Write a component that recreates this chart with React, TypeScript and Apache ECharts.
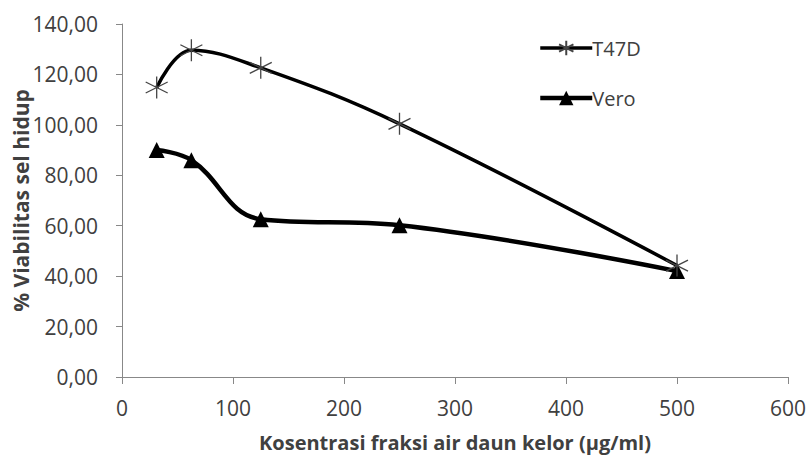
import React, { useEffect, useRef } from "react";
import * as echarts from "echarts";

const concentrations = [31.25, 62.5, 125, 250, 500];
const t47dValues = [114.8, 129.6, 122.6, 100.4, 44.2];
const veroValues = [90.0, 86.0, 62.6, 60.2, 42.0];
const seriesNames = ["T47D", "Vero"];
const xTitle = "Kosentrasi fraksi air daun kelor (µg/ml)";
const yTitle = "% Viabilitas sel hidup";

const starPath = "path://M0,-10L0,10M-8.66,-5L8.66,5M-8.66,5L8.66,-5";

export default function App() {
  const ref = useRef<HTMLDivElement>(null);
  useEffect(() => {
    if (!ref.current) return;
    const chart = echarts.init(ref.current, null, { renderer: "svg" });
    const font = "'Open Sans', 'Noto Sans', sans-serif";
    const textColor = "#404040";
    chart.setOption({
      animation: false,
      backgroundColor: "#ffffff",
      textStyle: { fontFamily: font },
      grid: { left: 122, right: 22, top: 24, bottom: 82, containLabel: false, outerBoundsMode: "none" },
      legend: {
        orient: "vertical",
        left: 533,
        top: 33,
        itemWidth: 52,
        itemHeight: 18,
        itemGap: 30,
        textStyle: { fontSize: 20, color: textColor, fontFamily: font, padding: [0, 0, 0, -5] },
        data: [
          { name: seriesNames[0], lineStyle: { width: 3.5, color: "#000000" } },
          { name: seriesNames[1], lineStyle: { width: 4.5, color: "#000000" } },
        ],
      },
      xAxis: {
        type: "value",
        min: 0,
        max: 600,
        interval: 100,
        name: xTitle,
        nameLocation: "middle",
        nameGap: 55,
        nameMoveOverlap: false,
        nameTextStyle: { fontSize: 20, fontWeight: "bold", color: textColor, fontFamily: font },
        axisLine: { show: true, onZero: false, lineStyle: { color: "#888888", width: 1 } },
        axisTick: { show: true, length: 7, lineStyle: { color: "#888888" } },
        axisLabel: { fontSize: 21, color: textColor, margin: 20, fontFamily: font },
        splitLine: { show: false },
      },
      yAxis: {
        type: "value",
        min: 0,
        max: 140,
        interval: 20,
        name: yTitle,
        nameLocation: "middle",
        nameGap: 91,
        nameMoveOverlap: false,
        nameRotate: 90,
        nameTextStyle: { fontSize: 21, fontWeight: "bold", color: textColor, fontFamily: font },
        axisLine: { show: true, lineStyle: { color: "#888888", width: 1 } },
        axisTick: { show: true, length: 6, lineStyle: { color: "#888888" } },
        axisLabel: {
          fontSize: 21,
          color: textColor,
          margin: 24,
          fontFamily: font,
          formatter: (v: number) => v.toFixed(2).replace(".", ","),
        },
        splitLine: { show: false },
      },
      series: [
        {
          name: seriesNames[0],
          type: "line",
          smooth: 0.4,
          data: concentrations.map((x, i) => [x, t47dValues[i]]),
          symbol: starPath,
          symbolSize: 22,
          lineStyle: { color: "#000000", width: 3.5 },
          itemStyle: { color: "rgba(0,0,0,0)", borderColor: "#444444", borderWidth: 1.3 },
          z: 3,
        },
        {
          name: seriesNames[1],
          type: "line",
          smooth: 0.4,
          data: concentrations.map((x, i) => [x, veroValues[i]]),
          symbol: "triangle",
          symbolSize: 16,
          lineStyle: { color: "#000000", width: 4.5 },
          itemStyle: { color: "#000000", borderColor: "#000000", borderWidth: 0 },
          z: 2,
        },
      ],
    });
    return () => chart.dispose();
  }, []);
  return <div ref={ref} style={{ width: 810, height: 459, position: "absolute", left: 0, top: 0 }} />;
}
